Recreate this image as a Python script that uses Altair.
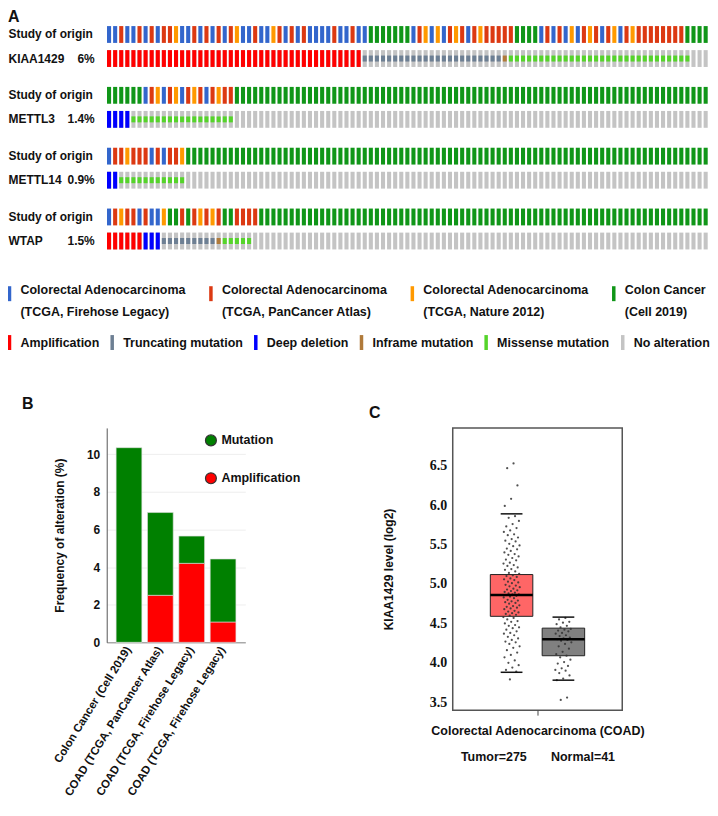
import json
import altair as alt
import pandas as pd

SANS = "Liberation Sans, Arial, sans-serif"
SERIF = "Liberation Serif, Times New Roman, serif"

# ---------------- Panel A : OncoPrint ----------------
ROW_STUDY = "Study of origin"
GENES = ["KIAA1429", "METTL3", "METTL14", "WTAP"]
GENE_PCT = ["6%", "1.4%", "0.9%", "1.5%"]

STUDY_KEYS = ["B", "R", "O", "G"]
STUDY_NAMES = [
    "Colorectal Adenocarcinoma|(TCGA, Firehose Legacy)",
    "Colorectal Adenocarcinoma|(TCGA, PanCancer Atlas)",
    "Colorectal Adenocarcinoma|(TCGA, Nature 2012)",
    "Colon Cancer|(Cell 2019)",
]
STUDY_COLORS = ["#3366cc", "#dc3912", "#ff9900", "#109618"]

# study of origin per sample column (one letter per sample)
STUDY_ROWS = [
    "BBRBBRBRBR" "ROBBRBRBRB" "ROBBRBBORB" "RBRBBBBRBB" "RB"
    "BGGGGGGGBR" "OBOBRORBRO" "RRRRRGGGG"
    "BRBRBOBROR" "BROBRORRRR" "RRRRGGGG",
    "GGGGGGBROB" "ROBRORBROR" "R"
    "GGGGGGGGGG" "GGGGGGGGGG" "GGGGGGGGGG" "GGGGGGGGGG" "GGGGGGGGGG"
    "GGGGGGGGGG" "GGGGGGGGGG" "GGGGGGGG",
    "BRRORRRBRB" "RRO"
    "GGGGGGGGGG" "GGGGGGGGGG" "GGGGGGGGGG" "GGGGGGGGGG" "GGGGGGGGGG"
    "GGGGGGGGGG" "GGGGGGGGGG" "GGGGGGGGGG" "GGGGGG",
    "BRORRBRBBO" "GGRGRORORG" "GRRRR"
    "GGGGGGGGGG" "GGGGGGGGGG" "GGGGGGGGGG" "GGGGGGGGGG" "GGGGGGGGGG"
    "GGGGGGGGGG" "GGGGGGGGGG" "GGGG",
]

ALT_TYPES = ["Amplification", "Truncating mutation", "Deep deletion",
             "Inframe mutation", "Missense mutation", "No alteration"]
ALT_COLORS = ["#ff0000", "#6d7f93", "#0000ff", "#b07a3a", "#55d42a", "#c4c4c4"]
FULL_TYPES = ["Amplification", "Deep deletion"]
MUTATION_TYPES = ["Truncating mutation", "Inframe mutation", "Missense mutation"]

# alteration runs along the sample columns (type, number of samples)
ALT_RUNS = [
    [("Amplification", 42), ("Truncating mutation", 23), ("Inframe mutation", 1),
     ("Missense mutation", 30), ("No alteration", 3)],
    [("Deep deletion", 4), ("Missense mutation", 17), ("No alteration", 78)],
    [("Deep deletion", 2), ("Missense mutation", 11), ("No alteration", 86)],
    [("Amplification", 6), ("Deep deletion", 3), ("Truncating mutation", 9),
     ("Inframe mutation", 1), ("Missense mutation", 5), ("No alteration", 75)],
]

# ---------------- Panel B : alteration frequency ----------------
B_CATEGORIES = ["Colon Cancer (Cell 2019)", "COAD (TCGA, PanCancer Atlas)",
                "COAD (TCGA, Firehose Legacy)", "COAD (TCGA, Firehose Legacy)"]
B_MUTATION = [10.35, 4.40, 1.45, 3.35]
B_AMPLIFICATION = [0.00, 2.50, 4.20, 1.08]
B_TYPES = ["Mutation", "Amplification"]
B_COLORS = ["#008000", "#ff0000"]
B_TICKS = [0, 2, 4, 6, 8, 10]

# ---------------- Panel C : expression box plot ----------------
C_GROUPS = ["Tumor", "Normal"]
C_FILLS = ["#ff6666", "#808080"]
C_Q1 = [4.59, 4.09]
C_MEDIAN = [4.86, 4.30]
C_Q3 = [5.12, 4.44]
C_LOWER = [3.88, 3.78]
C_UPPER = [5.89, 4.58]
C_TICKS = [3.5, 4.0, 4.5, 5.0, 5.5, 6.0, 6.5]
C_TITLE = ["Colorectal Adenocarcinoma (COAD)",
           "Tumor=275\u00a0\u00a0\u00a0\u00a0\u00a0\u00a0\u00a0Normal=41"]

TUMOR_VALUES = [
    6.53, 6.47, 6.25, 6.08, 5.99, 5.86, 5.84, 5.80, 5.76, 5.73, 5.71, 5.68,
    5.66, 5.63, 5.62, 5.59, 5.57, 5.55, 5.54, 5.51, 5.49, 5.48, 5.45, 5.44,
    5.42, 5.40, 5.38, 5.37, 5.35, 5.33, 5.31, 5.30, 5.27, 5.26, 5.24, 5.23,
    5.21, 5.19, 5.18, 5.16, 5.14, 5.13, 5.11, 5.10, 5.09, 5.07, 5.06, 5.05,
    5.03, 5.02, 5.01, 4.99, 4.98, 4.97, 4.96, 4.94, 4.93, 4.92, 4.91, 4.90,
    4.89, 4.88, 4.87, 4.87, 4.86, 4.85, 4.84, 4.83, 4.82, 4.80, 4.79, 4.78,
    4.77, 4.76, 4.75, 4.73, 4.72, 4.71, 4.70, 4.69, 4.68, 4.66, 4.65, 4.64,
    4.63, 4.62, 4.61, 4.60, 4.58, 4.57, 4.55, 4.53, 4.52, 4.50, 4.48, 4.47,
    4.45, 4.44, 4.42, 4.40, 4.38, 4.37, 4.35, 4.33, 4.31, 4.29, 4.27, 4.26,
    4.24, 4.21, 4.19, 4.16, 4.13, 4.10, 4.07, 4.03, 4.00, 3.97, 3.94, 3.91,
    3.89, 3.79,
]
NORMAL_VALUES = [
    4.57, 4.55, 4.52, 4.51, 4.49, 4.47, 4.45, 4.43, 4.42, 4.41, 4.40, 4.38,
    4.37, 4.35, 4.34, 4.32, 4.31, 4.30, 4.29, 4.28, 4.26, 4.24, 4.21, 4.18,
    4.14, 4.11, 4.09, 4.07, 4.04, 4.01, 3.99, 3.96, 3.93, 3.91, 3.90, 3.87,
    3.84, 3.80, 3.78, 3.56, 3.53,
]

# ======================= build Panel A =======================
study_scale = alt.Scale(domain=STUDY_NAMES, range=STUDY_COLORS)
alt_scale = alt.Scale(domain=ALT_TYPES, range=ALT_COLORS)
NO_ALT_COLOR = ALT_COLORS[ALT_TYPES.index("No alteration")]

BAR_PATH = "M-2.6,-3H-1.2V3H-2.6Z"

records = []
for gi, gene in enumerate(GENES):
    alts = []
    for t, n in ALT_RUNS[gi]:
        alts += [t] * n
    for c, code in enumerate(STUDY_ROWS[gi]):
        records.append(dict(gene=gene, col=c, row=ROW_STUDY, kind="study",
                            study=STUDY_NAMES[STUDY_KEYS.index(code)],
                            alteration="", pct=""))
        records.append(dict(gene=gene, col=c, row=gene, kind="gene", study="",
                            alteration=alts[c] if c < len(alts) else "No alteration",
                            pct=GENE_PCT[gi]))
onco_df = pd.DataFrame(records)

A_W = 603
A_H = 41


def in_expr(field, values):
    return " || ".join("datum.%s == '%s'" % (field, v) for v in values)


def onco_chart(gi):
    gene = GENES[gi]
    data = onco_df[onco_df.gene == gene]
    xs = alt.X("col:O", axis=None,
               scale=alt.Scale(paddingInner=0.33, paddingOuter=0.05))
    ys = alt.Y("row:N", title=None,
               scale=alt.Scale(domain=[ROW_STUDY, gene], paddingInner=0.3,
                               paddingOuter=0),
               axis=alt.Axis(domain=False, ticks=False, labelAlign="left",
                             labelPadding=99, labelFontSize=12,
                             labelFontWeight="bold", labelFont=SANS,
                             labelColor="#111", labelLimit=200))
    base = alt.Chart(data)
    study = base.transform_filter("datum.kind == 'study'").mark_rect().encode(
        x=xs, y=ys, color=alt.Color("study:N", scale=study_scale, legend=None))
    bg = base.transform_filter("datum.kind == 'gene'").mark_rect(
        color=NO_ALT_COLOR).encode(x=xs, y=ys)
    full = base.transform_filter(
        "datum.kind == 'gene' && (%s)" % in_expr("alteration", FULL_TYPES)
    ).mark_rect().encode(
        x=xs, y=ys, fill=alt.Fill("alteration:N", scale=alt_scale, legend=None))
    small = base.transform_filter(
        "datum.kind == 'gene' && (%s)" % in_expr("alteration", MUTATION_TYPES)
    ).mark_rect(height=6).encode(
        x=xs, y=ys, fill=alt.Fill("alteration:N", scale=alt_scale, legend=None))
    pct = base.transform_filter("datum.kind == 'gene' && datum.col == 0").mark_text(
        align="right", baseline="middle", fontSize=12, fontWeight="bold",
        font=SANS, color="#111").encode(x=alt.value(-12), y=ys, text="pct:N")
    layers = [study, bg, full, small, pct]
    if gi == 0:
        lab = alt.Chart(alt.Data(values=[{"t": "A"}])).mark_text(
            align="left", baseline="top", fontSize=16, fontWeight="bold",
            font=SANS, color="#111").encode(
            x=alt.value(-99), y=alt.value(-17), text="t:N")
        layers.append(lab)
    return alt.layer(*layers).properties(width=A_W, height=A_H)


leg_study = alt.Chart(pd.DataFrame({"study": STUDY_NAMES})).transform_filter(
    "false").mark_rect().encode(
    color=alt.Color("study:N", scale=study_scale, legend=alt.Legend(
        title=None, orient="none", legendX=-99, legendY=18, padding=0,
        direction="horizontal", columns=4, gridAlign="all", columnPadding=22,
        symbolType=BAR_PATH, symbolSize=25, symbolStrokeWidth=0,
        symbolOpacity=1, labelExpr="split(datum.label, '|')",
        labelFont=SANS, labelFontSize=12.5, labelFontWeight="bold",
        labelColor="#111", labelOffset=0, labelBaseline="alphabetic",
        labelLimit=300)))
leg_alt = alt.Chart(pd.DataFrame({"alteration": ALT_TYPES})).transform_filter(
    "false").mark_rect().encode(
    fill=alt.Fill("alteration:N", scale=alt_scale, legend=alt.Legend(
        title=None, orient="none", legendX=-99, legendY=67, padding=0,
        direction="horizontal", columns=6, gridAlign="each", columnPadding=10,
        symbolType=BAR_PATH, symbolSize=25, symbolStrokeWidth=0,
        symbolOpacity=1, labelFont=SANS, labelFontSize=12.5,
        labelFontWeight="bold", labelColor="#111", labelOffset=0,
        labelLimit=300)))
legend_chart = alt.layer(leg_study, leg_alt).properties(width=A_W, height=139)

# ======================= build Panel B =======================
b_rows = []
for i in range(len(B_CATEGORIES)):
    b_rows.append(dict(idx=i, type="Amplification", value=B_AMPLIFICATION[i], ord=0))
    b_rows.append(dict(idx=i, type="Mutation", value=B_MUTATION[i], ord=1))
b_df = pd.DataFrame(b_rows)

b_bars = alt.Chart(b_df).mark_bar(stroke="#dddddd", strokeWidth=0.6).encode(
    x=alt.X("idx:O", title=None,
            scale=alt.Scale(paddingInner=0.18, paddingOuter=0.3),
            axis=alt.Axis(labelExpr=json.dumps(B_CATEGORIES) + "[datum.value]",
                          labelAngle=302, labelAlign="right",
                          labelBaseline="middle", labelFontSize=11.5,
                          labelFontWeight="bold", labelFont=SANS,
                          labelColor="#111", labelPadding=5, ticks=False,
                          domainColor="#888", labelLimit=260)),
    y=alt.Y("value:Q", stack="zero",
            scale=alt.Scale(domain=[0, 11.4], nice=False),
            axis=alt.Axis(values=B_TICKS, title="Frequency of alteration (%)",
                          titleFontSize=12, titleFontWeight="bold",
                          titleFont=SANS, titleColor="#111", titlePadding=20,
                          labelFontSize=12, labelFontWeight="bold",
                          labelFont=SANS, labelColor="#111", labelPadding=7,
                          ticks=False, domainColor="#555", gridColor="#eeeeee")),
    color=alt.Color("type:N", scale=alt.Scale(domain=B_TYPES, range=B_COLORS),
                    legend=alt.Legend(
                        title=None, orient="none", legendX=98, legendY=6,
                        padding=0, direction="vertical", symbolType="circle",
                        symbolSize=120, symbolStrokeColor="#333",
                        symbolStrokeWidth=1.2, symbolOpacity=1,
                        labelFontSize=12.5, labelFontWeight="bold",
                        labelFont=SANS, labelColor="#111", labelOffset=4,
                        rowPadding=21)),
    order=alt.Order("ord:Q"))
b_label = alt.Chart(alt.Data(values=[{"t": "B"}])).mark_text(
    align="left", baseline="middle", fontSize=16, fontWeight="bold", font=SANS,
    color="#111").encode(x=alt.value(-85), y=alt.value(-24), text="t:N")
chart_b = alt.layer(b_bars, b_label).properties(width=139, height=215)

# ======================= build Panel C =======================
c_box_df = pd.DataFrame(dict(group=C_GROUPS, gi=list(range(len(C_GROUPS))),
                             q1=C_Q1, med=C_MEDIAN, q3=C_Q3, lo=C_LOWER,
                             hi=C_UPPER))
c_pts_df = pd.DataFrame(dict(
    group=["Tumor"] * len(TUMOR_VALUES) + ["Normal"] * len(NORMAL_VALUES),
    value=TUMOR_VALUES + NORMAL_VALUES))
c_pts_df["gi"] = c_pts_df["group"].map({g: i for i, g in enumerate(C_GROUPS)})

c_xscale = alt.Scale(domain=[-1.135, 2.135], nice=False, zero=False)
c_yscale = alt.Scale(domain=[3.4, 6.98], nice=False, zero=False)
c_xaxis = alt.Axis(values=[0.5], labels=False, ticks=True, tickSize=5,
                   tickColor="#444", domain=False, grid=False, title=C_TITLE,
                   titleFontSize=12.5, titleFontWeight="bold", titleFont=SANS,
                   titleColor="#111", titlePadding=9, titleLineHeight=26)
c_yaxis = alt.Axis(values=C_TICKS, format=".1f", labelFont=SERIF,
                   labelFontSize=14, labelFontWeight="bold", labelColor="#111",
                   labelPadding=6, domain=False, ticks=False, grid=False,
                   title="KIAA1429 level (log2)", titleFont=SANS,
                   titleFontSize=12, titleFontWeight="bold", titleColor="#111",
                   titlePadding=34)

c_box = alt.Chart(c_box_df).transform_calculate(
    xl="datum.gi - 0.41", xr="datum.gi + 0.41").mark_rect(
    stroke="#222", strokeWidth=1).encode(
    x=alt.X("xl:Q", scale=c_xscale, axis=c_xaxis), x2="xr:Q",
    y=alt.Y("q1:Q", scale=c_yscale, axis=c_yaxis), y2="q3:Q",
    fill=alt.Fill("group:N", scale=alt.Scale(domain=C_GROUPS, range=C_FILLS),
                  legend=None))
c_pts = alt.Chart(c_pts_df).transform_window(
    rn="row_number()", groupby=["group"]).transform_calculate(
    jx="datum.gi + (((datum.rn * 0.618034) % 1) - 0.5) * 0.32").mark_circle(
    size=5, color="#333", opacity=0.85).encode(
    x=alt.X("jx:Q", scale=c_xscale, axis=c_xaxis),
    y=alt.Y("value:Q", scale=c_yscale, axis=c_yaxis))
c_med = alt.Chart(c_box_df).transform_calculate(
    xl="datum.gi - 0.41", xr="datum.gi + 0.41").mark_rule(
    color="#000", strokeWidth=2.5).encode(
    x=alt.X("xl:Q", scale=c_xscale, axis=c_xaxis), x2="xr:Q",
    y=alt.Y("med:Q", scale=c_yscale, axis=c_yaxis))
c_caps = alt.Chart(c_box_df).transform_fold(
    ["lo", "hi"], as_=["stat", "v"]).transform_calculate(
    xl="datum.gi - 0.21", xr="datum.gi + 0.21").mark_rule(
    color="#111", strokeWidth=1.5).encode(
    x=alt.X("xl:Q", scale=c_xscale, axis=c_xaxis), x2="xr:Q",
    y=alt.Y("v:Q", scale=c_yscale, axis=c_yaxis))
c_label = alt.Chart(alt.Data(values=[{"t": "C"}])).mark_text(
    align="left", baseline="middle", fontSize=16, fontWeight="bold", font=SANS,
    color="#111").encode(x=alt.value(-84), y=alt.value(-15), text="t:N")
chart_c = alt.layer(c_box, c_pts, c_med, c_caps, c_label).properties(
    width=170, height=283,
    view=alt.ViewBackground(stroke="#555", strokeWidth=1.5))

panel_bc = alt.hconcat(chart_b, chart_c, spacing=208, bounds="flush").resolve_scale(
    x="independent", y="independent", color="independent", fill="independent")

chart = alt.vconcat(*[onco_chart(i) for i in range(len(GENES))], legend_chart,
                    panel_bc, spacing=20, bounds="flush").resolve_scale(
    x="independent", y="independent", color="independent", fill="independent"
).properties(
    padding={"left": 0, "top": 0, "right": 0, "bottom": 0}
).configure(font=SANS, style={"guide-label": {"lineHeight": 22}}).configure_view(
    stroke=None)

chart.save("out.html", embed_options={"renderer": "svg", "actions": False})
